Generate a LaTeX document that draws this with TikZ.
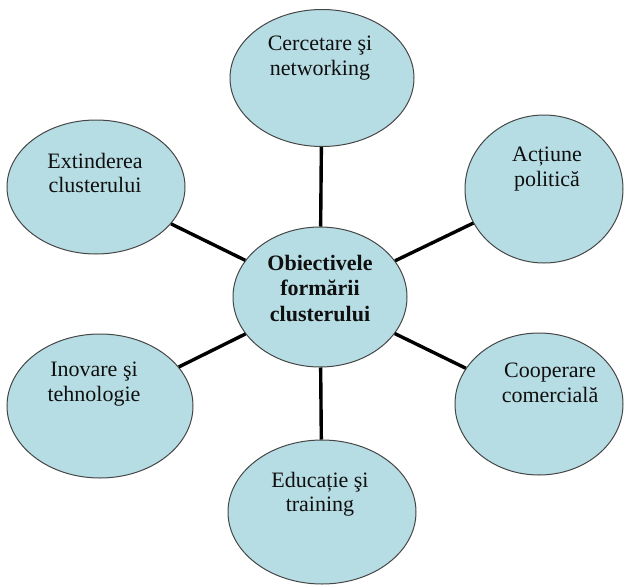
\documentclass[tikz,border=0pt]{standalone}
\usepackage{fontspec}
\setmainfont{Liberation Serif}
\usetikzlibrary{shapes.geometric}
\definecolor{bubblefill}{RGB}{183,221,228}
\definecolor{bubbleline}{RGB}{70,70,70}
\definecolor{txtcol}{RGB}{15,15,15}
\begin{document}
\begin{tikzpicture}[x=1pt,y=-1pt,
  bubble/.style={ellipse,draw=bubbleline,line width=1pt,fill=bubblefill,inner sep=0pt},
  label/.style={align=center,text=txtcol,font=\fontsize{22}{24.5}\selectfont,inner sep=0pt},
  spoke/.style={line width=3.4pt,black}]
\useasboundingbox (0,0) rectangle (625,587);
% ellipses
\node[bubble,minimum width=174pt,minimum height=140pt] (c) at (320,297) {};
\node[bubble,minimum width=184pt,minimum height=137pt] (n) at (322,78) {};
\node[bubble,minimum width=178pt,minimum height=134pt] (nw) at (96,187) {};
\node[bubble,minimum width=158pt,minimum height=148pt] (ne) at (544,189) {};
\node[bubble,minimum width=186pt,minimum height=144pt] (sw) at (100,406) {};
\node[bubble,minimum width=168pt,minimum height=142pt] (se) at (539,404) {};
\node[bubble,minimum width=188pt,minimum height=144pt] (s) at (322,512) {};
% spokes
\draw[spoke] (c) -- (n);
\draw[spoke] (c) -- (nw);
\draw[spoke] (c) -- (ne);
\draw[spoke] (c) -- (sw);
\draw[spoke] (c) -- (se);
\draw[spoke] (c) -- (s);
% texts
\node[label,font=\fontsize{22}{25.5}\selectfont\bfseries] (tc) at (320,288) {Obiectivele\\formării\\clusterului};
\node[label] (tn) at (320,58) {Cercetare şi\\networking};
\node[label] (tnw) at (95,173) {Extinderea\\clusterului};
\node[label] (tne) at (547,169) {Acțiune\\politică};
\node[label] (tsw) at (94,384) {Inovare şi\\tehnologie};
\node[label] (tse) at (550,383) {Cooperare\\comercială};
\node[label] (ts) at (320,494) {Educație şi\\training};
\end{tikzpicture}
\end{document}
